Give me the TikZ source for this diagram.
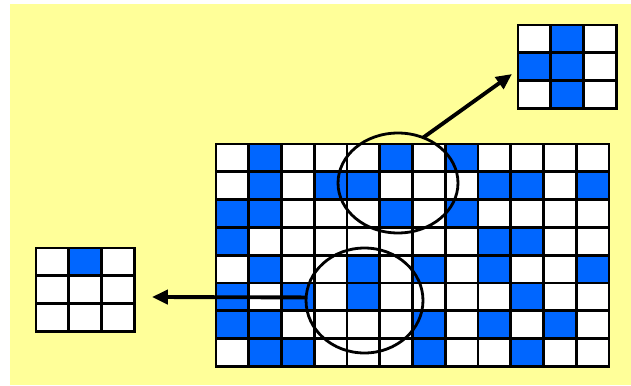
\documentclass[tikz,border=0pt]{standalone}
\usepackage{xcolor}
\usepackage{tikz}
\usetikzlibrary{shapes.geometric, arrows.meta, positioning, calc}
\definecolor{mybg}{RGB}{255,255,153}
\definecolor{myblue}{RGB}{0,102,255}
\def\cw{32.75}
\def\ch{27.8}
\tikzset{
  cellline/.style={draw=black, line width=1.5pt},
  bluecell/.style={fill=myblue},
  zoomring/.style={draw=black, ellipse, line width=1.6pt, inner sep=0pt, outer sep=0pt},
  arrow/.style={draw=black, line width=2.2pt, -{Triangle[length=9pt, width=8pt]}}
}
% #1,#2 top left corner, #3 columns, #4 rows, #5 row/{blue columns}
\newcommand{\pixgrid}[5]{%
  \fill[white] (#1,#2) rectangle ++(#3*\cw,#4*\ch);
  \foreach \r/\cs in {#5} {
    \foreach \c in \cs
      \fill[bluecell] (#1+\c*\cw-\cw,#2+\r*\ch-\ch) rectangle ++(\cw,\ch);
  }
  \foreach \i in {1,...,#3}
    \draw[cellline] (#1+\i*\cw-\cw,#2) -- ++(0,#4*\ch);
  \foreach \j in {1,...,#4}
    \draw[cellline] (#1,#2+\j*\ch-\ch) -- ++(#3*\cw,0);
  \draw[cellline] (#1,#2) rectangle ++(#3*\cw,#4*\ch);
}

\begin{document}
\begin{tikzpicture}[x=0.02cm, y=-0.02cm]
  \useasboundingbox (0,0) rectangle (631,385);
  \fill[mybg] (10,4) rectangle (631,385);

  % the large picture
  \pixgrid{216}{144}{12}{8}{1/{2,6,8}, 2/{2,4,5,9,10,12}, 3/{1,2,6,8}, 4/{1,9,10},
    5/{2,5,7,9,12}, 6/{1,3,5,10}, 7/{1,2,7,9,11}, 8/{2,3,7,10}}

  % the two zoomed windows
  \pixgrid{518}{25}{3}{3}{1/{2}, 2/{1,2}, 3/{2}}
  \pixgrid{36}{248}{3}{3}{1/{2}}

  \node [zoomring, minimum width=2.4cm, minimum height=2.0cm] (upper) at (398,183) {};
  \node [zoomring, minimum width=2.34cm, minimum height=2.1cm] (lower) at (364.5,300.5) {};

  \coordinate (rtip) at (512,74);
  \coordinate (ltip) at (152,297);

  \draw [arrow] (upper.61) -- (rtip);
  \draw [arrow] (lower.177) -- (ltip);
\end{tikzpicture}
\end{document}
